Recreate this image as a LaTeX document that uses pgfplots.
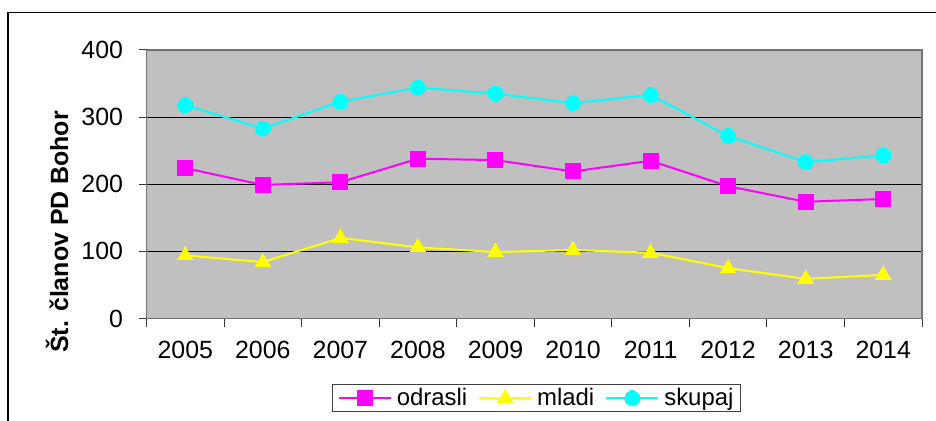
\documentclass[border=0pt]{standalone}
\usepackage{pgfplots}
\pgfplotsset{compat=1.18}
\usepackage{fontspec}
\setmainfont{Liberation Sans}
\definecolor{plotbg}{HTML}{C0C0C0}
\definecolor{cmag}{HTML}{FF00FF}
\definecolor{cyel}{HTML}{FFFF00}
\definecolor{ccya}{HTML}{00FFFF}
\begin{document}
\begin{tikzpicture}
\useasboundingbox (0bp,0bp) rectangle (936bp,421bp);
\draw[line width=1.2bp] (8bp,0bp) -- (8bp,408.5bp) -- (936bp,408.5bp);
\begin{axis}[
 at={(146.5bp,102.5bp)}, anchor=south west,
 scale only axis, width=775.5bp, height=268.5bp,
 xmin=-0.5, xmax=9.5, ymin=0, ymax=400,
 axis background/.style={fill=plotbg},
 axis line style={draw=black!55, line width=1.3bp},
 tick align=outside,
 xtick pos=bottom, ytick pos=left,
 major tick length=8bp,
 tick style={black!80, line width=1bp},
 ytick={0,100,200,300,400},
 ymajorgrids, grid style={black, line width=1bp},
 xtick={-0.5,0.5,...,9.5}, xticklabels={},
 extra x ticks={0,1,2,3,4,5,6,7,8,9},
 extra x tick labels={2005,2006,2007,2008,2009,2010,2011,2012,2013,2014},
 extra x tick style={tick style={draw=none}},
 /pgf/number format/assume math mode=true,
 tick label style={font=\fontsize{25}{30}\selectfont},
 xticklabel style={yshift=-11bp},
 yticklabel style={xshift=-12bp},
 legend style={at={(0.503,-0.296)}, anchor=center, draw=black!75, line width=1bp,
   font=\fontsize{24}{28}\selectfont, legend columns=3,
   /tikz/every even column/.append style={column sep=9bp},
   /tikz/every odd column/.append style={column sep=3bp},
   inner xsep=5bp, inner ysep=2bp},
 legend image code/.code={\draw[mark repeat=2,mark phase=2] plot coordinates {(0bp,0bp) (26bp,0bp) (52bp,0bp)};},
 every axis plot/.append style={line width=2bp},
]
\addplot[cmag, mark=square*, mark size=7.5bp, mark options={solid, fill=cmag, draw=cmag, line width=0pt}] coordinates {
(0,224) (1,199) (2,203) (3,238) (4,236) (5,219) (6,235) (7,197) (8,174) (9,178)};
\addlegendentry{odrasli}
\addplot[cyel, mark=triangle*, mark size=9bp, mark options={solid, fill=cyel, draw=cyel, line width=0pt}] coordinates {
(0,94) (1,84) (2,120) (3,106) (4,99) (5,102) (6,98) (7,75) (8,59) (9,65)};
\addlegendentry{mladi}
\addplot[ccya, mark=*, mark size=7.5bp, mark options={solid, fill=ccya, draw=ccya, line width=0pt}] coordinates {
(0,318) (1,283) (2,323) (3,344) (4,335) (5,321) (6,333) (7,272) (8,233) (9,243)};
\addlegendentry{skupaj}
\end{axis}
\node[rotate=90, font=\bfseries\fontsize{25}{30}\selectfont] at (57bp,189bp) {Št. članov PD Bohor};
\end{tikzpicture}
\end{document}
